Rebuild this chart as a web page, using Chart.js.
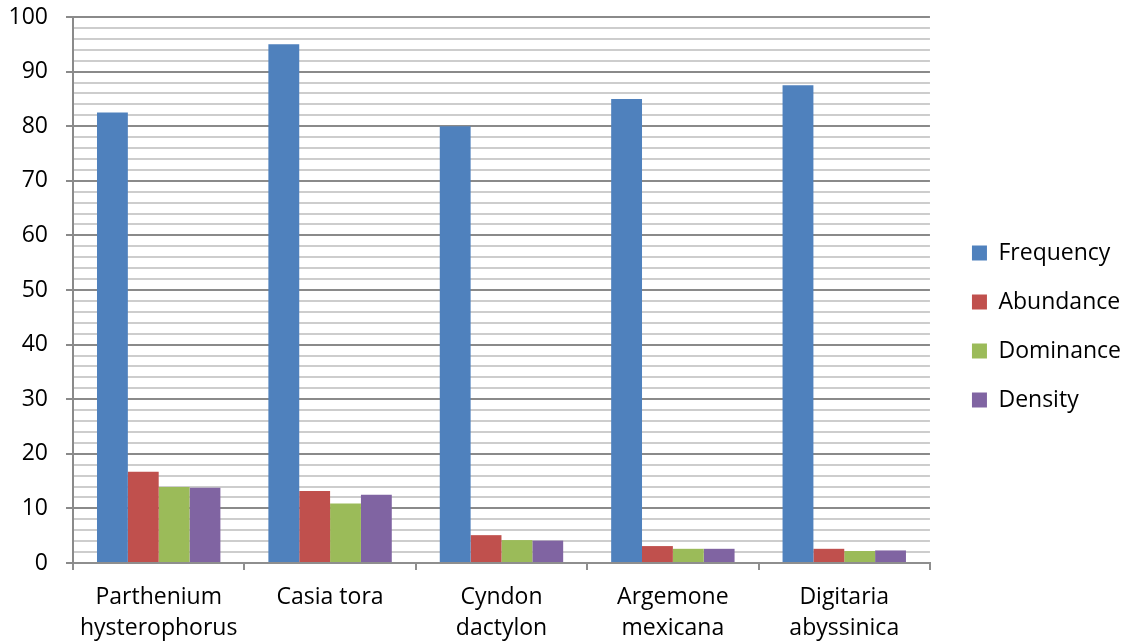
<!DOCTYPE html>
<html>
<head>
    <title>Weed Species Chart</title>
    <script src="https://cdn.jsdelivr.net/npm/chart.js"></script>
    <style>
        html, body { margin: 0; padding: 0; background: #fff; }
        .chart-container { width: 1123px; height: 642px; }
    </style>
</head>
<body>
    <div class="chart-container">
        <canvas id="weedChart"></canvas>
    </div>

    <script>
        const species = [
            ['Parthenium', 'hysterophorus'],
            ['Casia tora'],
            ['Cyndon', 'dactylon'],
            ['Argemone', 'mexicana'],
            ['Digitaria', 'abyssinica']
        ];
        const frequency = [82.5, 95, 80, 85, 87.5];
        const abundance = [16.7, 13.2, 5.1, 3.1, 2.6];
        const dominance = [13.9, 10.9, 4.2, 2.6, 2.2];
        const density = [13.8, 12.5, 4.1, 2.6, 2.3];

        const fontFamily = '"Open Sans", sans-serif';

        // nudge the legend a bit away from the plot, like the Excel original
        const legendNudge = {
            id: 'legendNudge',
            afterLayout(chart) {
                const lg = chart.legend;
                if (!lg) return;
                const dx = 16, dy = -3;
                lg.left += dx;
                lg.right += dx;
                lg.top += dy;
                lg.bottom += dy;
                if (lg.legendHitBoxes) lg.legendHitBoxes.forEach(b => { b.left += dx; b.top += dy; });
            }
        };

        const ctx = document.getElementById('weedChart').getContext('2d');
        const chart = new Chart(ctx, {
            type: 'bar',
            data: {
                labels: species,
                datasets: [
                    { label: 'Frequency', data: frequency, backgroundColor: '#4F81BD' },
                    { label: 'Abundance', data: abundance, backgroundColor: '#C0504D' },
                    { label: 'Dominance', data: dominance, backgroundColor: '#9BBB59' },
                    { label: 'Density', data: density, backgroundColor: '#8064A2' }
                ]
            },
            options: {
                responsive: true,
                maintainAspectRatio: false,
                animation: false,
                layout: { padding: { left: 10, top: 17, right: 8, bottom: 0 } },
                datasets: {
                    bar: { categoryPercentage: 0.72, barPercentage: 1.0, borderWidth: 0 }
                },
                scales: {
                    x: {
                        afterFit: scale => { scale.height = 79; },
                        grid: {
                            offset: true,
                            drawOnChartArea: false,
                            drawTicks: true,
                            tickLength: 7,
                            tickColor: '#8e8e8e',
                            lineWidth: 2
                        },
                        border: { color: '#8e8e8e', width: 2 },
                        ticks: {
                            color: '#000',
                            padding: 12,
                            maxRotation: 0,
                            font: { family: fontFamily, size: 23, lineHeight: 1.35 }
                        }
                    },
                    y: {
                        min: 0,
                        max: 100,
                        afterFit: scale => {
                            scale.width = 63;
                            scale.paddingTop = 0;
                            scale.paddingBottom = 0;
                        },
                        grid: {
                            color: c => (c.tick && c.tick.value % 10 === 0) ? '#8a8a8a' : '#cdcdcd',
                            tickColor: c => (c.tick && c.tick.value % 10 === 0) ? '#8a8a8a' : 'rgba(0,0,0,0)',
                            lineWidth: 2,
                            tickLength: 7
                        },
                        border: { color: '#8a8a8a', width: 2 },
                        ticks: {
                            stepSize: 2,
                            autoSkip: false,
                            color: '#000',
                            padding: 18,
                            font: { family: fontFamily, size: 23 },
                            callback: v => (v % 10 === 0 ? v : '')
                        }
                    }
                },
                plugins: {
                    tooltip: { enabled: false },
                    legend: {
                        position: 'right',
                        labels: {
                            color: '#000',
                            boxWidth: 15,
                            boxHeight: 15,
                            padding: 26,
                            font: { family: fontFamily, size: 23 }
                        }
                    }
                }
            },
            plugins: [legendNudge]
        });
    </script>
</body>
</html>
